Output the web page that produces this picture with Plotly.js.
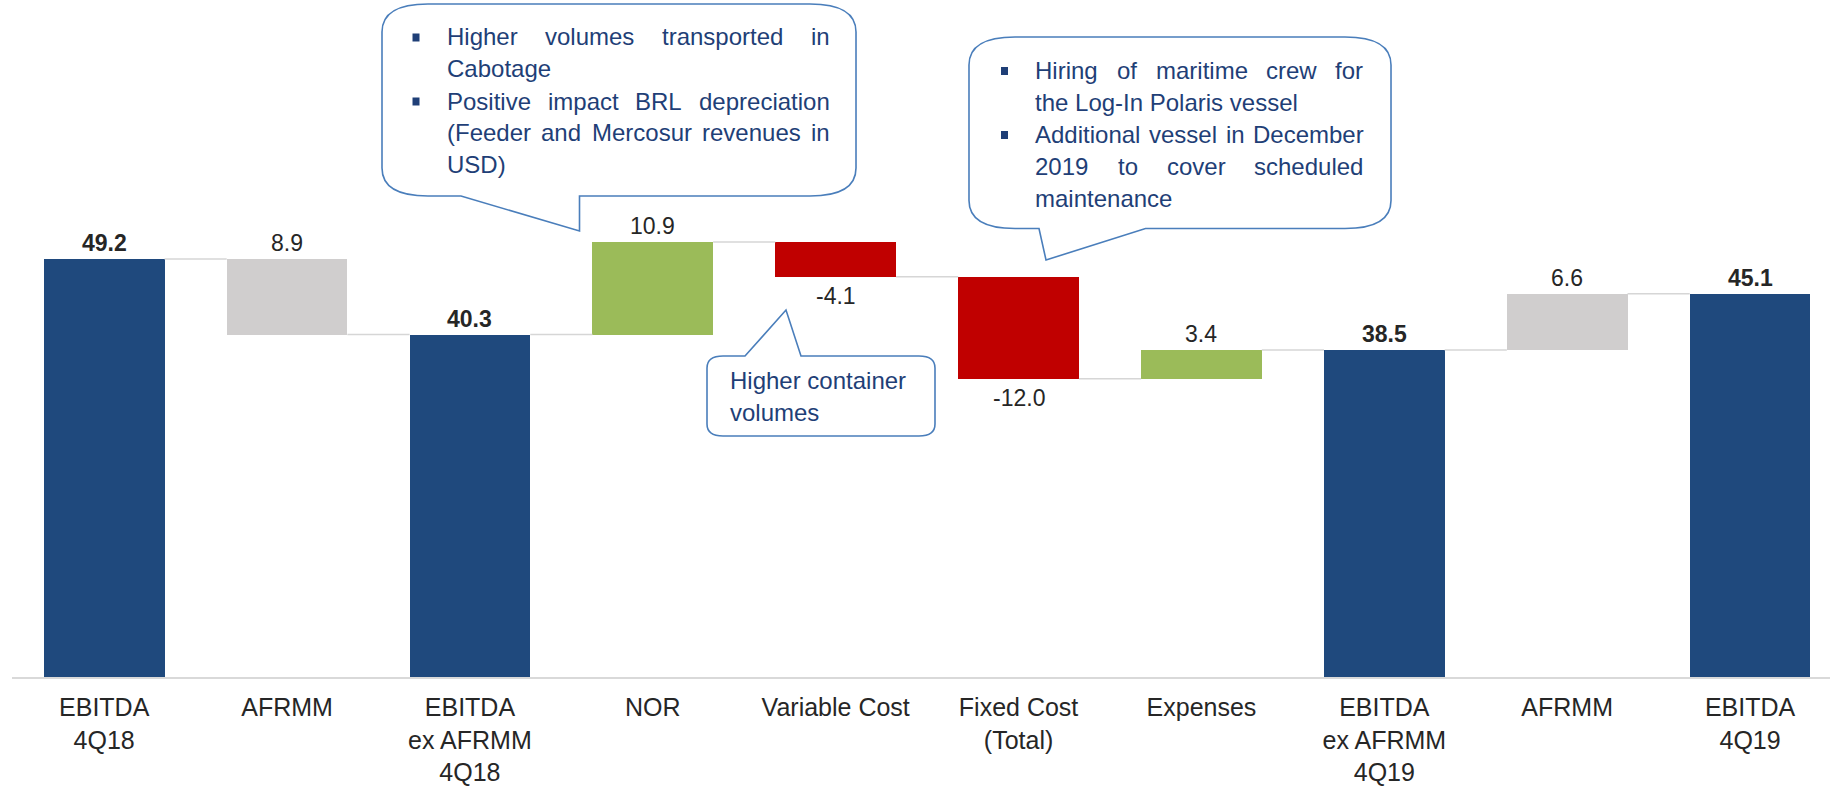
<!DOCTYPE html>
<html><head><meta charset="utf-8">
<script src="https://cdn.plot.ly/plotly-3.0.1.min.js"></script>
<style>html,body{margin:0;padding:0;background:#fff}#chart{width:1830px;height:789px}</style>
</head><body><div id="chart"></div>
<script>
// ---- data ----
const categories = ['EBITDA<br>4Q18','AFRMM','EBITDA<br>ex AFRMM<br>4Q18','NOR','Variable Cost','Fixed Cost<br>(Total)','Expenses','EBITDA<br>ex AFRMM<br>4Q19','AFRMM','EBITDA<br>4Q19'];
const kinds = ['total','adjustment','total','change','change','change','change','total','adjustment','total'];
const values = [49.2, -8.9, 40.3, 10.9, -4.1, -12.0, 3.4, 38.5, 6.6, 45.1];

const note1 = ['Higher volumes transported in','Cabotage','Positive impact BRL depreciation','(Feeder and Mercosur revenues in','USD)'];
const note2 = ['Hiring of maritime crew for','the Log-In Polaris vessel','Additional vessel in December','2019 to cover scheduled','maintenance'];
const note3 = ['Higher container','volumes'];

// ---- styles ----
const NAVY = '#1f497d', GREY = '#d0cece', GREEN = '#9bbb59', RED = '#c00000';
const FONT = 'Liberation Sans, Arial, sans-serif';
const TXT = '#262626', NOTE = '#1f3f77', BORDER = '#4a7ebb';

// ---- waterfall geometry from data ----
const idx = categories.map((_, i) => i);
const bases = [], heights = [], colors = [], labels = [], levels = [];
let level = 0;
values.forEach((v, i) => {
  const k = kinds[i];
  if (k === 'total') {
    bases.push(0); heights.push(v); level = v;
    colors.push(NAVY); labels.push('<b>' + v.toFixed(1) + '</b>');
  } else {
    const prev = level; level = prev + v;
    if (k === 'adjustment') {
      bases.push(Math.min(prev, level)); heights.push(Math.abs(v));
      colors.push(GREY); labels.push(Math.abs(v).toFixed(1));
    } else {
      bases.push(prev); heights.push(v);
      colors.push(v >= 0 ? GREEN : RED); labels.push(v.toFixed(1));
    }
  }
  levels.push(level);
});

const BW = 0.66;
const cx = [], cy = [];
for (let i = 0; i < idx.length - 1; i++) {
  cx.push(i + BW / 2, i + 1 - BW / 2, null);
  cy.push(levels[i], levels[i], null);
}

const bars = {
  type: 'bar', x: idx, y: heights, base: bases, width: BW,
  marker: {color: colors, line: {width: 0}},
  hoverinfo: 'skip'
};
const connectors = {
  type: 'scatter', mode: 'lines', x: cx, y: cy,
  line: {color: '#d6d6d6', width: 1.5}, hoverinfo: 'skip'
};

const annotations = [];
// value labels at the end of each bar
idx.forEach(i => {
  const end = bases[i] + heights[i];
  const down = heights[i] < 0;
  annotations.push({x: i, y: end, xref: 'x', yref: 'y', text: labels[i], showarrow: false,
    xanchor: 'center', yanchor: 'middle', yshift: down ? -19 : 16, borderpad: 0,
    font: {family: FONT, size: 23, color: TXT}});
});

// ---- pixel helpers for callouts ----
const W = 1830, H = 789, ML = 12, MB = 112, PH = H - MB, PW = W - ML;
const px = x => ((x - ML) / PW).toFixed(5);
const py = y => ((PH - y) / PH).toFixed(5);
function P(x, y) { return px(x) + ',' + py(y); }

function callout(x0, y0, x1, y1, rx, ry, tail) {
  let d = 'M' + P(x0 + rx, y0);
  if (tail.edge === 'top') d += ' L' + P(tail.a, y0) + ' L' + P(tail.tx, tail.ty) + ' L' + P(tail.b, y0);
  d += ' L' + P(x1 - rx, y0) + ' Q' + P(x1, y0) + ' ' + P(x1, y0 + ry);
  d += ' L' + P(x1, y1 - ry) + ' Q' + P(x1, y1) + ' ' + P(x1 - rx, y1);
  if (tail.edge === 'bottom') d += ' L' + P(tail.b, y1) + ' L' + P(tail.tx, tail.ty) + ' L' + P(tail.a, y1);
  d += ' L' + P(x0 + rx, y1) + ' Q' + P(x0, y1) + ' ' + P(x0, y1 - ry);
  d += ' L' + P(x0, y0 + ry) + ' Q' + P(x0, y0) + ' ' + P(x0 + rx, y0) + ' Z';
  return {type: 'path', xref: 'paper', yref: 'paper', path: d, layer: 'above',
          fillcolor: '#ffffff', line: {color: BORDER, width: 1.6}};
}

const shapes = [
  callout(382, 4, 856, 196, 46, 28, {edge: 'bottom', a: 461, b: 579.5, tx: 579.5, ty: 231}),
  callout(969, 37, 1391, 228.5, 46, 28, {edge: 'bottom', a: 1039, b: 1145.5, tx: 1046, ty: 260}),
  callout(707, 356, 935, 436, 16, 12, {edge: 'top', a: 745, b: 801, tx: 786, ty: 310})
];
function bullet(x, y) {
  shapes.push({type: 'rect', xref: 'paper', yref: 'paper', layer: 'above',
    x0: px(x - 3.5), x1: px(x + 3.5), y0: py(y + 4.5), y1: py(y - 3.5),
    fillcolor: NOTE, line: {width: 0}});
}

// ---- text layout (justified lines) ----
const NOTE_SIZE = 24;
const ctx = document.createElement('canvas').getContext('2d');
ctx.font = NOTE_SIZE + 'px "Liberation Sans"';
function word(t, x, y) {
  annotations.push({xref: 'paper', yref: 'paper', x: px(x), y: py(y), xanchor: 'left', yanchor: 'middle',
    text: t, showarrow: false, borderpad: 0, font: {family: FONT, size: NOTE_SIZE, color: NOTE}});
}
function block(lines, left, right, top, step, justify, bullets) {
  lines.forEach((ln, i) => {
    const y = top + i * step;
    if (bullets.includes(i)) bullet(left - 30, y);
    if (justify.includes(i)) {
      const ws = ln.split(' ');
      const widths = ws.map(w => ctx.measureText(w).width);
      const sum = widths.reduce((a, b) => a + b, 0);
      const gap = (right - left - sum) / (ws.length - 1);
      let x = left;
      ws.forEach((w, j) => { word(w, x, y); x += widths[j] + gap; });
    } else {
      word(ln, left, y);
    }
  });
}
block(note1, 446, 828.5, 37, 32, [0, 2, 3], [0, 2]);
block(note2, 1034.5, 1362.5, 70.5, 32, [0, 2, 3], [0, 2]);
block(note3, 729, 935, 380, 33, [], []);

const layout = {
  width: W, height: H,
  margin: {l: ML, r: 0, t: 0, b: MB},
  paper_bgcolor: '#ffffff', plot_bgcolor: '#ffffff',
  showlegend: false, bargap: 0,
  xaxis: {range: [-0.504, 9.437], tickvals: idx, ticktext: categories,
    showline: true, linecolor: '#d9d9d9', linewidth: 2, ticks: '', showgrid: false, zeroline: false,
    ticklabelstandoff: 7,
    tickfont: {family: FONT, size: 25, color: TXT}, fixedrange: true},
  yaxis: {range: [0, PH / 8.496], visible: false, fixedrange: true},
  shapes: shapes, annotations: annotations
};
Plotly.newPlot('chart', [connectors, bars], layout, {displayModeBar: false, staticPlot: true});
</script></body></html>
